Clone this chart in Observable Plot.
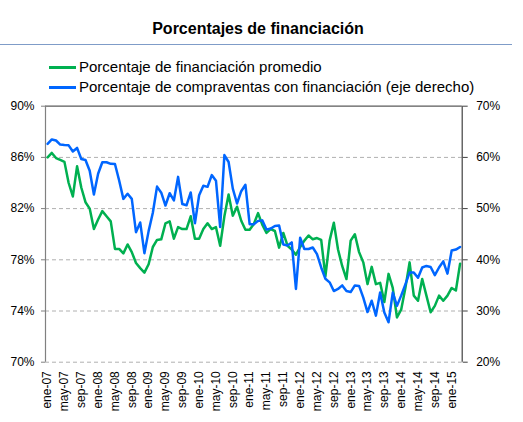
<!DOCTYPE html>
<html><head><meta charset="utf-8">
<script src="https://cdn.jsdelivr.net/npm/d3@7"></script>
<script src="https://cdn.jsdelivr.net/npm/@observablehq/plot@0.6"></script>
<style>
body{margin:0;background:#fff;font-family:Arial,"Liberation Sans",sans-serif;}
#wrap{position:relative;width:523px;}
#head{position:relative;height:100px;}
#title{position:absolute;left:0;width:516px;top:20px;text-align:center;font-weight:bold;font-size:16px;color:#000;}
#hr{position:absolute;left:0;top:44px;width:512px;height:0;border-top:1px solid #7f9cc8;}
.leg{position:absolute;left:49px;font-size:15px;line-height:20px;color:#000;white-space:nowrap;}
.leg span.sw{display:inline-block;width:27px;height:3px;vertical-align:middle;margin-right:3px;position:relative;top:-1px;}
#chart svg{display:block;}
</style></head>
<body>
<div id="wrap">
  <div id="head">
    <div id="title">Porcentajes de financiación</div>
    <div id="hr"></div>
    <div class="leg" id="leg1" style="top:57px"><span class="sw" style="background:#00B050"></span>Porcentaje de financiación promedio</div>
    <div class="leg" id="leg2" style="top:77px"><span class="sw" style="background:#0066FF"></span>Porcentaje de compraventas con financiación (eje derecho)</div>
  </div>
  <div id="chart"></div>
</div>
<script>
const months = ["ene","feb","mar","abr","may","jun","jul","ago","sep","oct","nov","dic"];
const years = ["07","08","09","10","11","12","13","14","15"];
const categories = years.flatMap(y => months.map(m => `${m}-${y}`)).slice(0, 99);

const financiacionPromedio = [
  86.0,86.35,85.95,85.8,85.65,84.0,82.95,85.3,83.65,82.5,82.0,80.4,
  81.15,81.8,81.4,81.0,78.85,78.85,78.5,79.2,78.6,77.75,77.35,77.0,
  77.65,79.0,79.55,79.6,80.85,81.0,79.65,80.55,80.4,80.4,81.4,79.65,
  79.65,80.4,80.85,80.4,80.55,79.1,81.4,83.1,81.45,82.15,81.05,80.35,
  80.35,80.8,81.65,80.75,80.1,80.4,80.25,78.95,80.1,79.1,78.8,78.4,
  79.0,79.5,79.9,79.6,79.7,79.55,76.7,79.5,80.9,78.8,77.5,76.5,
  79.5,80.0,78.6,77.8,76.1,77.45,76.1,76.2,74.7,76.9,75.8,73.5,
  74.1,75.8,77.8,75.2,74.8,76.5,75.2,73.9,74.4,75.2,74.8,75.2,
  75.8,75.6,77.7
];
const compraventasConFinanciacion = [
  62.65,63.5,63.3,62.5,62.4,62.35,61.15,61.85,59.7,59.5,57.4,52.75,
  56.8,59.05,59.05,58.75,58.7,55.5,51.9,52.9,51.9,45.4,47.3,41.3,
  45.6,49.2,54.3,53.1,50.6,53.0,51.6,56.2,50.9,50.65,53.15,47.15,
  52.6,54.45,54.25,56.55,55.45,46.4,60.45,59.1,53.9,51.0,53.4,54.65,
  46.95,46.95,47.6,47.7,45.9,46.1,46.6,46.7,43.0,42.8,43.4,34.3,
  44.3,42.1,42.1,42.4,41.1,38.5,36.3,35.6,33.9,34.3,35.0,33.9,
  33.7,35.0,34.9,32.6,29.8,32.0,29.1,33.6,29.7,27.8,33.6,31.0,
  33.0,35.2,37.5,37.5,36.5,38.5,38.8,38.6,37.0,38.5,39.7,37.3,
  41.8,42.0,42.5
];
const leftTicks = [70,74,78,82,86,90];
const rightTicks = [20,30,40,50,60,70];
const leftDomain = [70,90];
const rightDomain = [20,70];

const toLeft = v => leftDomain[0] + (v - rightDomain[0]) * (leftDomain[1]-leftDomain[0]) / (rightDomain[1]-rightDomain[0]);
const data = categories.map((c, i) => ({i, c, g: financiacionPromedio[i], b: toLeft(compraventasConFinanciacion[i])}));
const xTicks = categories.map((c, i) => i).filter(i => i % 4 === 0);
const n = categories.length;

const chart = Plot.plot({
  width: 523, height: 322,
  marginLeft: 45, marginRight: 61.3, marginTop: 5.7, marginBottom: 60.3,
  x: {type: "linear", domain: [-0.5, n - 0.5]},
  y: {domain: leftDomain},
  style: {fontFamily: "Arial, 'Liberation Sans', sans-serif", fontSize: "12px", color: "#000", background: "#fff"},
  marks: [
    Plot.ruleY(leftTicks.filter(t => t !== leftDomain[1]), {stroke: "#b0b0b0", strokeDasharray: "4,3"}),
    Plot.ruleY([leftDomain[1]], {stroke: "#5a5a5a", strokeWidth: 1.2}),
    Plot.ruleX([-0.5], {stroke: "#808080", strokeWidth: 1.2}),
    Plot.ruleX([n - 0.5], {stroke: "#404040", strokeWidth: 1.2}),
    Plot.axisY(leftTicks, {anchor: "left", tickSize: 4, tickPadding: 7, stroke: "#808080", tickFormat: d => d + "%", label: null}),
    Plot.axisY(rightTicks.map(toLeft), {anchor: "right", tickSize: 5, tickPadding: 9, stroke: "#404040", tickFormat: d => Math.round(rightDomain[0] + (d - leftDomain[0]) * (rightDomain[1]-rightDomain[0])/(leftDomain[1]-leftDomain[0])) + "%", label: null}),
    Plot.axisX(xTicks, {anchor: "bottom", tickSize: 0, tickPadding: 9, tickRotate: -90, tickFormat: i => categories[i], label: null}),
    Plot.lineY(data, {x: "i", y: "g", stroke: "#00B050", strokeWidth: 2.5, strokeLinejoin: "round"}),
    Plot.lineY(data, {x: "i", y: "b", stroke: "#0066FF", strokeWidth: 2.5, strokeLinejoin: "round"})
  ]
});
document.getElementById("chart").appendChild(chart);
</script>
</body></html>
